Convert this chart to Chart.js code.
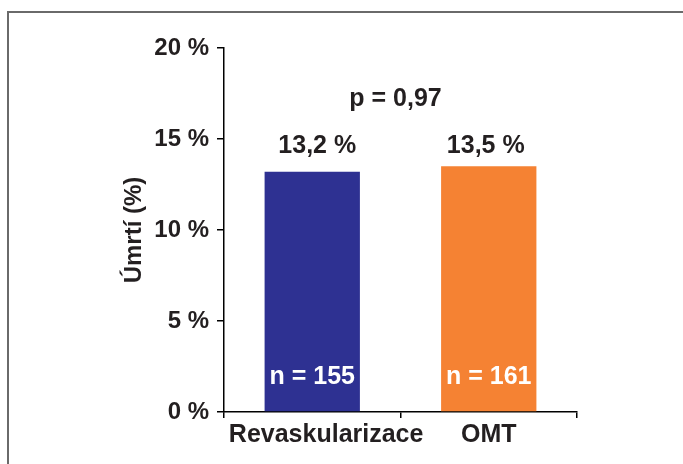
<!DOCTYPE html>
<html>
<head>
<meta charset="utf-8">
<script src="https://cdn.jsdelivr.net/npm/chart.js@4.4.0/dist/chart.umd.min.js"></script>
<style>
  html, body { margin: 0; padding: 0; background: #fff; }
  #wrap { position: relative; width: 683px; height: 464px; overflow: hidden; }
  #frame { position: absolute; left: 7px; top: 11px; width: 700px; height: 470px;
           border-left: 2px solid #6a6a6a; border-top: 2px solid #6a6a6a; }
  canvas { position: absolute; left: 0; top: 0; }
</style>
</head>
<body>
<div id="wrap">
  <div id="frame"></div>
  <canvas id="umrtiChart" width="683" height="464"></canvas>
</div>
<script>
// data
const categories = ["Revaskularizace", "OMT"];
const deathRate = [13.2, 13.5];
const valueLabels = ["13,2 %", "13,5 %"];
const countLabels = ["n = 155", "n = 161"];
const pLabel = "p = 0,97";
const yTicks = [0, 5, 10, 15, 20];

const barColors = ['#2e3192', '#f58233'];
const textColor = '#231f20';
const fontFamily = '"Liberation Sans", Arial, Helvetica, sans-serif';

// value labels, n labels and the p value, placed via the scales
const annotate = {
    id: 'annotate',
    afterDatasetsDraw(chart) {
        const ctx = chart.ctx;
        const y = chart.scales.y;
        const meta = chart.getDatasetMeta(0);
        ctx.save();
        ctx.textAlign = 'center';
        ctx.textBaseline = 'alphabetic';
        ctx.font = 'bold 25px ' + fontFamily;
        meta.data.forEach((bar, i) => {
            ctx.fillStyle = textColor;
            ctx.fillText(valueLabels[i], bar.x + 5 - i * 8, y.getPixelForValue(14.25));
            ctx.fillStyle = '#ffffff';
            ctx.fillText(countLabels[i], bar.x, y.getPixelForValue(1.55));
        });
        ctx.fillStyle = textColor;
        const midX = (meta.data[0].x + meta.data[1].x) / 2;
        ctx.fillText(pLabel, midX - 5, y.getPixelForValue(16.8));
        ctx.restore();
    }
};

const config = {
    type: 'bar',
    data: {
        labels: categories,
        datasets: [{
            data: deathRate,
            backgroundColor: barColors,
            borderWidth: 0,
            barPercentage: 0.54,
            categoryPercentage: 1.0
        }]
    },
    options: {
        responsive: false,
        animation: false,
        layout: { padding: { left: 120, right: 106, top: 48, bottom: 0 } },
        plugins: {
            legend: { display: false },
            tooltip: { enabled: false }
        },
        scales: {
            x: {
                offset: true,
                grid: {
                    display: true,
                    offset: true,
                    drawOnChartArea: false,
                    drawTicks: true,
                    tickLength: 6,
                    color: '#000',
                    lineWidth: 1.5
                },
                border: { display: true, color: '#000', width: 1.5 },
                ticks: {
                    color: textColor,
                    padding: 2,
                    autoSkip: false,
                    maxRotation: 0,
                    minRotation: 0,
                    font: { family: fontFamily, size: 25, weight: 'bold' },
                    // first label sits a bit right of its slot in the original
                    callback: (v, i) => (i === 0 ? '    ' : '') + categories[i]
                },
                afterFit(scale) { scale.height = 52; }
            },
            y: {
                min: 0,
                max: 20,
                afterBuildTicks(scale) {
                    scale.ticks = yTicks.map(v => ({ value: v }));
                },
                grid: {
                    display: true,
                    drawOnChartArea: false,
                    drawTicks: true,
                    tickLength: 7,
                    color: '#000',
                    lineWidth: 1.5
                },
                border: { display: true, color: '#000', width: 1.5 },
                ticks: {
                    color: textColor,
                    padding: 8,
                    font: { family: fontFamily, size: 24, weight: 'bold' },
                    callback: v => v + ' %'
                },
                title: {
                    display: true,
                    text: 'Úmrtí (%)',
                    color: textColor,
                    padding: { top: 0, bottom: 0 },
                    font: { family: fontFamily, size: 24, weight: 'bold' }
                },
                afterFit(scale) { scale.width = 104; }
            }
        }
    },
    plugins: [annotate]
};

const umrtiChart = new Chart(document.getElementById('umrtiChart'), config);
</script>
</body>
</html>
